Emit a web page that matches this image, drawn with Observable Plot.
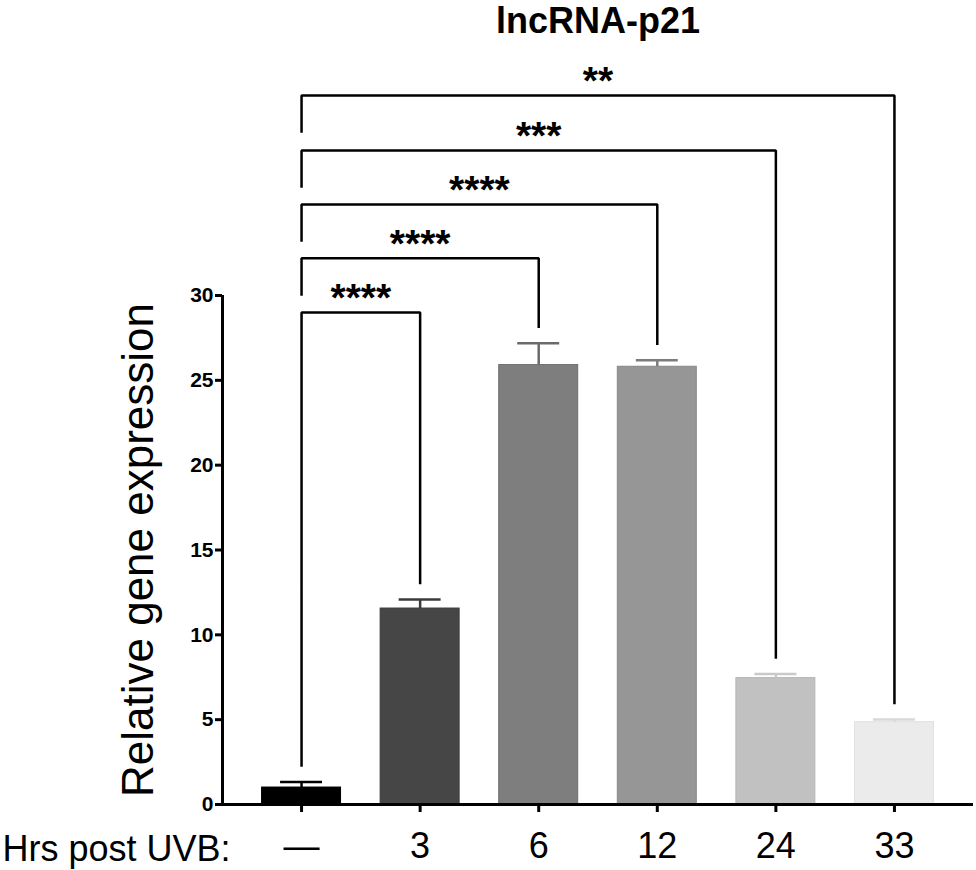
<!DOCTYPE html>
<html>
<head>
<meta charset="utf-8">
<script src="https://cdn.jsdelivr.net/npm/d3@7"></script>
<script src="https://cdn.jsdelivr.net/npm/@observablehq/plot@0.6"></script>
<style>
  body { margin: 0; background: #fff; font-family: "Liberation Sans", Arial, sans-serif; }
  #title { margin-left: 220px; width: 756px; height: 40px; line-height: 41px; font-size: 36px; font-weight: bold; text-align: center; color: #000; overflow: visible; }
</style>
</head>
<body>
<div id="title">lncRNA-p21</div>
<div id="chart"></div>
<script>
// ---- data ----
const categories = ["—", "3", "6", "12", "24", "33"];
const xAxisTitle = "Hrs post UVB:";
const yAxisTitle = "Relative gene expression";
const means  = [1.0, 11.55, 25.9, 25.8, 7.45, 4.85];
const errors = [0.32, 0.53, 1.28, 0.38, 0.24, 0.16];
const fills     = ["#000000", "#464646", "#7e7e7e", "#969696", "#c1c1c1", "#ebebeb"];
const edges     = ["#000000", "#3a3a3a", "#6e6e6e", "#878787", "#b6b6b6", "#e0e0e0"];
const errColors = ["#000000", "#3a3a3a", "#6a6a6a", "#7c7c7c", "#c9c9c9", "#d8d8d8"];
const yTicks = [0, 5, 10, 15, 20, 25, 30];
// significance brackets: control (index 0) vs each group
const compareTo     = [1, 2, 3, 4, 5];
const bracketLevels = [29.0, 32.19, 35.37, 38.55, 41.79];
const stars         = ["****", "****", "****", "***", "**"];

// ---- layout constants ----
const halfBar = 0.333, halfCap = 0.177, legGap = 0.9, leftDrop = 2.2;

const bars = categories.map((c, i) => ({
  i, c, mean: means[i], top: means[i] + errors[i], fill: fills[i], edge: edges[i], ec: errColors[i]
}));

const bracketPts = compareTo.flatMap((k, j) => {
  const lvl = bracketLevels[j];
  const lb = j === 0 ? means[0] + errors[0] + legGap : lvl - leftDrop;
  const rb = means[k] + errors[k] + legGap;
  return [
    {b: j, x: 0, y: lb}, {b: j, x: 0, y: lvl}, {b: j, x: k, y: lvl}, {b: j, x: k, y: rb}
  ];
});
const starRows = compareTo.map((k, j) => ({x: k / 2, y: bracketLevels[j], s: stars[j]}));

const plot = Plot.plot({
  width: 976,
  height: 830,
  marginLeft: 222,
  marginRight: 3,
  marginTop: 255,
  marginBottom: 66,
  style: {fontFamily: "'Liberation Sans', Arial, sans-serif", fontSize: "20px", background: "#fff", overflow: "visible"},
  x: {type: "linear", domain: [-2/3, 17/3]},
  y: {domain: [0, 30]},
  color: {type: "identity"},
  marks: [
    Plot.rectY(bars, {x1: d => d.i - halfBar, x2: d => d.i + halfBar, y1: 0, y2: "mean", fill: "fill", stroke: "edge", strokeWidth: 1}),
    Plot.ruleX(bars, {x: "i", y1: "mean", y2: "top", stroke: "ec", strokeWidth: 2.5}),
    Plot.ruleY(bars, {y: "top", x1: d => d.i - halfCap, x2: d => d.i + halfCap, stroke: "ec", strokeWidth: 2.5}),
    Plot.line(bracketPts, {x: "x", y: "y", z: "b", stroke: "#000", strokeWidth: 2.5, strokeLinejoin: "miter", strokeLinecap: "butt"}),
    Plot.text(starRows, {x: "x", y: "y", text: "s", lineAnchor: "bottom", textAnchor: "middle", fontSize: 39, fontWeight: "bold", dy: -1}),
    Plot.axisY({ticks: yTicks, tickSize: 7, tickPadding: 2, fontSize: 21, fontWeight: "bold", strokeWidth: 3, label: null}),
    Plot.axisX({ticks: [0, 1, 2, 3, 4, 5], tickFormat: i => categories[i], tickSize: 8, tickPadding: 20, fontSize: 36, strokeWidth: 3, label: null}),
    Plot.ruleY([0], {strokeWidth: 3}),
    Plot.ruleX([-2/3], {y1: 0, y2: 30, strokeWidth: 3}),
    Plot.text([yAxisTitle], {frameAnchor: "left", rotate: -90, dx: -70, textAnchor: "middle", lineAnchor: "bottom", fontSize: 44}),
    Plot.text([xAxisTitle], {frameAnchor: "bottom-left", textAnchor: "end", lineAnchor: "bottom", dx: 8, dy: 56, fontSize: 36})
  ]
});
document.getElementById("chart").appendChild(plot);
d3.select(plot).selectAll('g[aria-label="y-axis tick label"] text').style("font-weight", "bold");
</script>
</body>
</html>
